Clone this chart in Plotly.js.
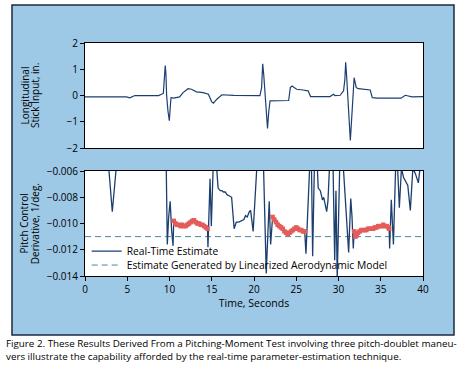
<!DOCTYPE html>
<html>
<head>
<meta charset="utf-8">
<script src="https://cdn.plot.ly/plotly-3.0.1.min.js"></script>
<style>html,body{margin:0;padding:0;background:#fff;}#chart{width:461px;height:369px;}</style>
</head>
<body>
<div id="chart"></div>
<script>
// Top panel: longitudinal stick input (in.)
var stickTime = [0, 4.9, 5.3, 5.9, 8.7, 9.0, 9.27, 9.42, 9.5, 9.58, 9.66, 9.82, 9.98, 10.1, 10.18, 10.5, 11.2, 11.6, 12.2, 12.6, 13.2, 14.0, 14.6, 15.0, 15.2, 15.6, 16.2, 17.6, 20.7, 20.9, 21.03, 21.15, 21.3, 21.45, 21.6, 21.75, 21.9, 24.1, 24.3, 24.5, 25.05, 25.8, 26.4, 26.7, 29.0, 29.4, 29.6, 30.2, 30.6, 30.75, 30.85, 30.95, 31.1, 31.25, 31.4, 31.5, 31.6, 31.85, 32.1, 32.35, 33.75, 34.0, 34.6, 37.4, 37.9, 38.1, 38.7, 40];
var stickInput = [-0.05, -0.05, -0.09, 0.0, 0.0, 0.03, 0.08, 0.8, 1.14, 0.8, 0.0, -0.6, -0.96, -0.4, -0.08, -0.1, -0.05, 0.11, 0.26, 0.24, 0.14, 0.11, 0.05, -0.24, -0.29, -0.14, 0.03, 0.01, 0.0, 0.3, 1.21, 0.8, 0.0, -0.8, -1.25, -0.6, -0.2, -0.19, 0.3, 0.36, 0.24, 0.21, 0.18, -0.04, -0.04, 0.05, 0.0, 0.01, 0.18, 0.6, 1.27, 0.8, 0.0, -1.0, -1.71, -1.2, -0.52, 0.68, 0.3, 0.26, 0.21, -0.08, -0.1, -0.1, 0.01, 0.0, -0.05, -0.04];

// Bottom panel: real-time estimate of pitch control derivative (1/deg.)
var rtTime = [2.6, 2.84, 3.23, 3.62, 3.8, 9.6, 9.74, 9.9, 10.08, 10.25, 10.42, 10.5, 12.5, 14.5, 14.55, 14.8, 14.95, 15.2, 15.55, 15.75, 16.0, 16.2, 16.4, 16.6, 16.8, 17.1, 17.35, 17.65, 17.9, 18.2, 18.5, 18.8, 19.0, 19.2, 19.45, 19.6, 19.9, 20.4, 21.1, 21.45, 21.8, 21.97, 22.2, 24.0, 26.0, 26.15, 26.6, 26.8, 26.94, 27.15, 27.5, 27.6, 27.85, 28.1, 28.25, 28.4, 28.6, 28.75, 28.95, 29.35, 29.55, 29.7, 29.85, 30.15, 30.6, 30.95, 31.2, 31.45, 31.6, 31.75, 31.85, 34.0, 36.0, 36.05, 36.25, 36.5, 36.77, 37.0, 37.2, 37.45, 37.7, 37.95, 38.2, 38.5, 38.8, 39.1, 39.45, 39.7, 40];
var rtEstimate = [-0.0050, -0.0060, -0.0091, -0.0060, -0.0050, -0.0050, -0.0116, -0.0095, -0.0083, -0.0105, -0.0117, -0.0098, null, -0.0104, -0.0118, -0.0066, -0.0102, -0.0050, -0.0055, -0.0073, -0.0075, -0.0075, -0.0076, -0.0076, -0.0078, -0.0079, -0.0080, -0.0104, -0.0099, -0.0099, -0.0098, -0.0097, -0.0094, -0.0095, -0.0091, -0.0090, -0.0106, -0.0050, -0.0050, -0.0138, -0.0083, -0.0116, -0.0095, null, -0.0106, -0.0123, -0.0055, -0.0055, -0.0125, -0.0055, -0.0058, -0.0073, -0.0075, -0.0082, -0.0080, -0.0086, -0.0091, -0.0083, -0.0055, -0.0055, -0.0128, -0.0075, -0.0142, -0.0055, -0.0060, -0.0096, -0.0122, -0.0081, -0.0095, -0.0119, -0.0106, null, -0.0104, -0.0119, -0.0082, -0.0116, -0.0055, -0.0058, -0.0088, -0.0058, -0.0065, -0.0068, -0.0071, -0.0090, -0.0058, -0.0062, -0.0069, -0.0055, -0.0055];

// Converged real-time estimate segments (red)
var convTime = [10.5, 10.7, 10.9, 11.1, 11.3, 11.5, 11.7, 11.9, 12.1, 12.3, 12.5, 12.7, 12.9, 13.1, 13.3, 13.5, 13.7, 13.9, 14.1, 14.3, 14.5, 18.0,
                22.2, 22.4, 22.6, 22.8, 23.0, 23.2, 23.4, 23.6, 23.8, 24.0, 24.2, 24.4, 24.6, 24.8, 25.0, 25.2, 25.4, 25.6, 25.8, 26.0, 29.0,
                31.85, 32.0, 32.15, 32.3, 32.5, 32.7, 32.9, 33.1, 33.3, 33.5, 33.7, 33.9, 34.1, 34.3, 34.5, 34.7, 34.9, 35.1, 35.3, 35.5, 35.7, 35.9, 36.0];
var convEstimate = [-0.0098, -0.0100, -0.0101, -0.0101, -0.0102, -0.0101, -0.0102, -0.0102, -0.0101, -0.0100, -0.0099, -0.0098, -0.00975, -0.0099, -0.0100, -0.0100, -0.0101, -0.0101, -0.0102, -0.0103, -0.0104, null,
                -0.0095, -0.0097, -0.0099, -0.0101, -0.0102, -0.0103, -0.0104, -0.0106, -0.0107, -0.0108, -0.0107, -0.0106, -0.0105, -0.0104, -0.0103, -0.0104, -0.0105, -0.0105, -0.0106, -0.0106, null,
                -0.0106, -0.0110, -0.0109, -0.0107, -0.0106, -0.0105, -0.0105, -0.0105, -0.0105, -0.0104, -0.0104, -0.0104, -0.0104, -0.0103, -0.0103, -0.0102, -0.0102, -0.0102, -0.0101, -0.0102, -0.0102, -0.0103, -0.0104];

// Linearized aerodynamic model estimate
var modelTime = [0, 40];
var modelEstimate = [-0.011, -0.011];

var FONT = 'Open Sans, Noto Sans, sans-serif';

var traces = [
  {x: stickTime, y: stickInput, xaxis: 'x', yaxis: 'y', mode: 'lines',
   line: {color: '#1d3f70', width: 1.2}, showlegend: false, hoverinfo: 'skip'},
  {x: modelTime, y: modelEstimate, xaxis: 'x2', yaxis: 'y2', mode: 'lines',
   name: 'Estimate Generated by Linearized Aerodynamic Model', legend: 'legend2',
   line: {color: '#4a8798', width: 1, dash: '6px,4px'}},
  {x: rtTime, y: rtEstimate, xaxis: 'x2', yaxis: 'y2', mode: 'lines', connectgaps: false,
   name: 'Real-Time Estimate', legend: 'legend',
   line: {color: '#1d3f70', width: 1.3}},
  {x: convTime, y: convEstimate, xaxis: 'x2', yaxis: 'y2', mode: 'lines+markers', connectgaps: false,
   showlegend: false,
   line: {color: '#e35d5b', width: 3.5},
   marker: {color: '#e35d5b', size: 4.5, symbol: 'square'}}
];

var axisCommon = {
  showline: true, mirror: true, linecolor: '#000', linewidth: 1,
  showgrid: false, zeroline: false, ticks: 'outside', ticklen: 4, tickwidth: 1, tickcolor: '#000',
  tickfont: {family: FONT, size: 10, color: '#000'}
};

var layout = {
  width: 461, height: 369,
  margin: {l: 85, r: 38, t: 43, b: 93},
  paper_bgcolor: '#fff', plot_bgcolor: 'rgba(0,0,0,0)',
  font: {family: FONT, color: '#000'},
  xaxis: Object.assign({}, axisCommon, {domain: [0, 1], range: [0, 40], anchor: 'y', showticklabels: false, ticks: ''}),
  yaxis: Object.assign({}, axisCommon, {domain: [0.549, 1], range: [-2, 2], dtick: 1, anchor: 'x'}),
  xaxis2: Object.assign({}, axisCommon, {domain: [0, 1], range: [0, 40], dtick: 5, anchor: 'y2',
    title: {text: 'Time, Seconds', font: {family: FONT, size: 10.5, color: '#000'}, standoff: 4}}),
  yaxis2: Object.assign({}, axisCommon, {domain: [0, 0.4506], range: [-0.014, -0.006], dtick: 0.002, tickformat: '.3f', anchor: 'x2'}),
  legend: {x: 0.005, xanchor: 'left', y: 0.107, yanchor: 'middle', bgcolor: 'rgba(0,0,0,0)',
    font: {family: FONT, size: 10.3, color: '#000'}},
  legend2: {x: 0.005, xanchor: 'left', y: 0.047, yanchor: 'middle', bgcolor: 'rgba(0,0,0,0)',
    font: {family: FONT, size: 10.3, color: '#000'}},
  shapes: [
    {type: 'rect', xref: 'paper', yref: 'paper', x0: -0.216, x1: 1.0917, y0: -0.253, y1: 1.163,
     fillcolor: '#9dc8e6', line: {color: '#1b2b3f', width: 1.5}, layer: 'below'},
    {type: 'rect', xref: 'x domain', yref: 'y domain', x0: 0, x1: 1, y0: 0, y1: 1,
     fillcolor: '#fff', line: {width: 0}, layer: 'below'},
    {type: 'rect', xref: 'x2 domain', yref: 'y2 domain', x0: 0, x1: 1, y0: 0, y1: 1,
     fillcolor: '#fff', line: {width: 0}, layer: 'below'}
  ],
  annotations: [
    {text: 'Longitudinal', xref: 'paper', yref: 'paper', x: -0.1775, y: 0.775, textangle: -90,
     showarrow: false, xanchor: 'center', yanchor: 'middle', font: {family: FONT, size: 10, color: '#000'}},
    {text: 'Stick Input, in.', xref: 'paper', yref: 'paper', x: -0.146, y: 0.775, textangle: -90,
     showarrow: false, xanchor: 'center', yanchor: 'middle', font: {family: FONT, size: 10, color: '#000'}},
    {text: 'Pitch Control', xref: 'paper', yref: 'paper', x: -0.1805, y: 0.2253, textangle: -90,
     showarrow: false, xanchor: 'center', yanchor: 'middle', font: {family: FONT, size: 10, color: '#000'}},
    {text: 'Derivative, 1/deg.', xref: 'paper', yref: 'paper', x: -0.149, y: 0.2253, textangle: -90,
     showarrow: false, xanchor: 'center', yanchor: 'middle', font: {family: FONT, size: 10, color: '#000'}},
    {text: 'Figure 2. These Results Derived From a Pitching-Moment Test involving three pitch-doublet maneu-<br>vers illustrate the capability afforded by the real-time parameter-estimation technique.',
     xref: 'paper', yref: 'paper', x: -0.2396, y: -0.3173, xanchor: 'left', yanchor: 'middle', align: 'left',
     showarrow: false, font: {family: FONT, size: 9.8, color: '#000'}}
  ]
};

Plotly.newPlot('chart', traces, layout, {staticPlot: true, displayModeBar: false});
</script>
</body>
</html>
